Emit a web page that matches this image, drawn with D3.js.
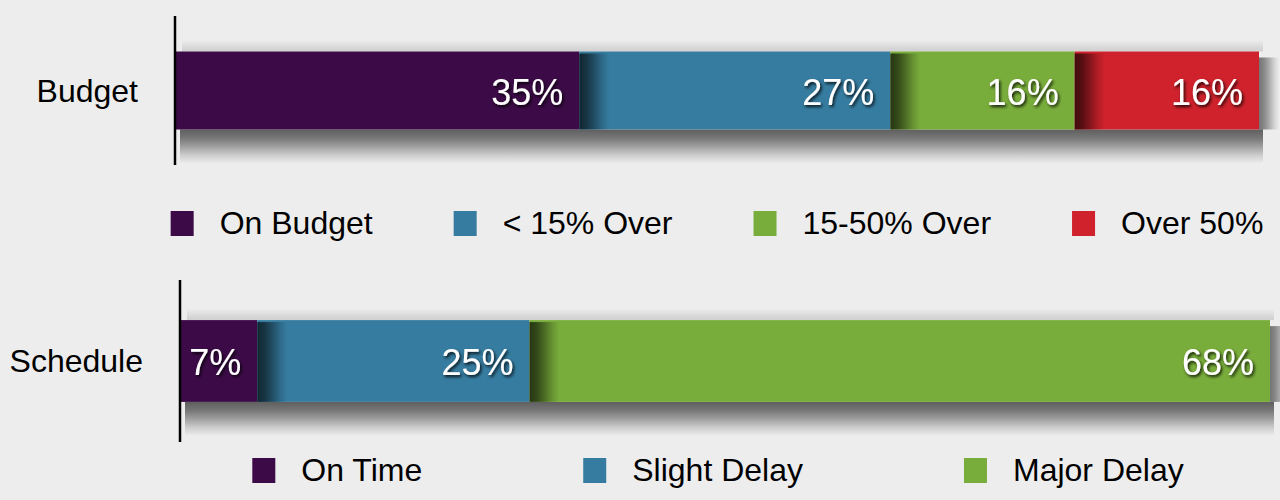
<!DOCTYPE html>
<html>
<head>
<meta charset="utf-8">
<script src="https://cdn.jsdelivr.net/npm/d3@7"></script>
<style>
  html, body { margin: 0; padding: 0; background: #ededed; }
  svg { display: block; font-family: "Liberation Sans", Arial, Helvetica, sans-serif; }
</style>
</head>
<body>
<svg id="chart" width="1280" height="500"></svg>
<script>
// data
const budgetLabels = ["On Budget", "< 15% Over", "15-50% Over", "Over 50%"];
const budgetValues = [35, 27, 16, 16];
const scheduleLabels = ["On Time", "Slight Delay", "Major Delay"];
const scheduleValues = [7, 25, 68];
const colors = ["#3c0b47", "#367ca0", "#79ad3b", "#d0222c"];

let width = 1280, height = 500;

let svg = d3.select("#chart")
    .attr("width", width)
    .attr("height", height);

// shadow gradients
let defs = svg.append("defs");
let fade = [[0, 0.6], [0.25, 0.5], [0.5, 0.33], [0.75, 0.14], [1, 0]];
function grad(id, x1, y1, x2, y2, scale) {
  let gr = defs.append("linearGradient")
      .attr("id", id)
      .attr("x1", x1).attr("y1", y1)
      .attr("x2", x2).attr("y2", y2);
  fade.forEach(s => gr.append("stop")
      .attr("offset", s[0])
      .attr("stop-color", "#000")
      .attr("stop-opacity", Math.min(1, s[1] * scale)));
}
grad("shadeDown", 0, 0, 0, 1, 1);
grad("shadeRight", 0, 0, 1, 0, 0.85);
grad("shadeEdge", 0, 0, 1, 0, 1.15);
grad("shadeUp", 0, 1, 0, 0, 0.2);

defs.append("filter")
    .attr("id", "textShadow")
    .attr("x", "-20%").attr("y", "-30%")
    .attr("width", "140%").attr("height", "160%")
  .append("feDropShadow")
    .attr("dx", 1.5).attr("dy", 2)
    .attr("stdDeviation", 1.5)
    .attr("flood-color", "#000")
    .attr("flood-opacity", 0.85);

function drawPanel(p) {
  let g = svg.append("g");
  let total = d3.sum(p.values);

  let x = d3.scaleLinear()
    .domain([0, total])
    .range([p.x0, p.x1]);

  let y = d3.scaleBand()
    .domain([p.name])
    .range([p.axisTop, p.axisBottom])
    .paddingInner(0)
    .paddingOuter(p.pad);

  let row = {};
  p.labels.forEach((l, i) => row[l] = p.values[i]);
  let series = d3.stack().keys(p.labels)([row]);

  let color = d3.scaleOrdinal(p.labels, colors);
  let top = y(p.name), bh = y.bandwidth();
  let xEnd = x(total);

  // outer shadow of the whole bar
  g.append("rect")
      .attr("x", x(0) + 4).attr("y", top + bh)
      .attr("width", xEnd - x(0)).attr("height", 34)
      .attr("fill", "url(#shadeDown)");
  g.append("rect")
      .attr("x", xEnd).attr("y", top + 6)
      .attr("width", 20).attr("height", bh - 6)
      .attr("fill", "url(#shadeRight)");
  g.append("rect")
      .attr("x", x(0) + 6).attr("y", top - 12)
      .attr("width", xEnd - x(0) - 2).attr("height", 12)
      .attr("fill", "url(#shadeUp)");

  g.selectAll("rect.seg")
    .data(series)
    .join("rect")
      .attr("class", "seg")
      .attr("x", d => x(d[0][0]))
      .attr("y", top)
      .attr("width", d => x(d[0][1]) - x(d[0][0]))
      .attr("height", bh)
      .attr("fill", d => color(d.key));

  // each segment casts a shadow on the one to its right
  g.selectAll("rect.edge")
    .data(series.slice(1))
    .join("rect")
      .attr("class", "edge")
      .attr("x", d => x(d[0][0]))
      .attr("y", top + 2)
      .attr("width", 30)
      .attr("height", bh - 2)
      .attr("fill", "url(#shadeEdge)");

  g.selectAll("text.val")
    .data(series)
    .join("text")
      .attr("class", "val")
      .attr("x", d => x(d[0][1]) - 16)
      .attr("y", top + bh / 2 + 14)
      .attr("text-anchor", "end")
      .attr("fill", "#fff")
      .attr("font-size", 36)
      .attr("filter", "url(#textShadow)")
      .text(d => (d[0][1] - d[0][0]) + "%");

  // axis
  let yAxis = d3.axisLeft(y).tickSize(0).tickPadding(37);
  let ax = g.append("g")
      .attr("transform", "translate(" + (p.x0 - 1) + ",0)")
      .call(yAxis);
  ax.select(".domain")
      .attr("d", "M0," + p.axisTop + "V" + p.axisBottom)
      .attr("stroke", "#000")
      .attr("stroke-width", 2.5);
  ax.selectAll(".tick text")
      .attr("font-size", 32)
      .attr("font-family", "'Liberation Sans', Arial, sans-serif")
      .attr("fill", "#000")
      .attr("dy", "0.35em");

  // legend
  let lg = g.append("g");
  let items = lg.selectAll("g.item")
    .data(p.labels)
    .join("g")
      .attr("class", "item");
  items.append("rect")
      .attr("width", 23)
      .attr("height", 25)
      .attr("y", p.legendY - 12)
      .attr("fill", d => color(d));
  items.append("text")
      .attr("x", 49)
      .attr("y", p.legendY)
      .attr("dy", "0.35em")
      .attr("font-size", 32)
      .attr("fill", "#000")
      .text(d => d);

  let widths = [];
  items.select("text").each(function() { widths.push(49 + this.getComputedTextLength()); });
  let span = d3.sum(widths) + p.legendGap * (widths.length - 1);
  let start = p.legendCenter - span / 2;
  let offs = [];
  widths.forEach((w, i) => { offs.push(start); start += w + p.legendGap; });
  items.attr("transform", (d, i) => "translate(" + offs[i] + ",0)");
}

drawPanel({
  name: "Budget",
  labels: budgetLabels,
  values: budgetValues,
  x0: 176, x1: 1259,
  axisTop: 16, axisBottom: 165,
  pad: 0.455,
  legendY: 223,
  legendGap: 81,
  legendCenter: 717
});

drawPanel({
  name: "Schedule",
  labels: scheduleLabels,
  values: scheduleValues,
  x0: 181, x1: 1270,
  axisTop: 280, axisBottom: 442,
  pad: 0.49,
  legendY: 470,
  legendGap: 161,
  legendCenter: 718
});
</script>
</body>
</html>
